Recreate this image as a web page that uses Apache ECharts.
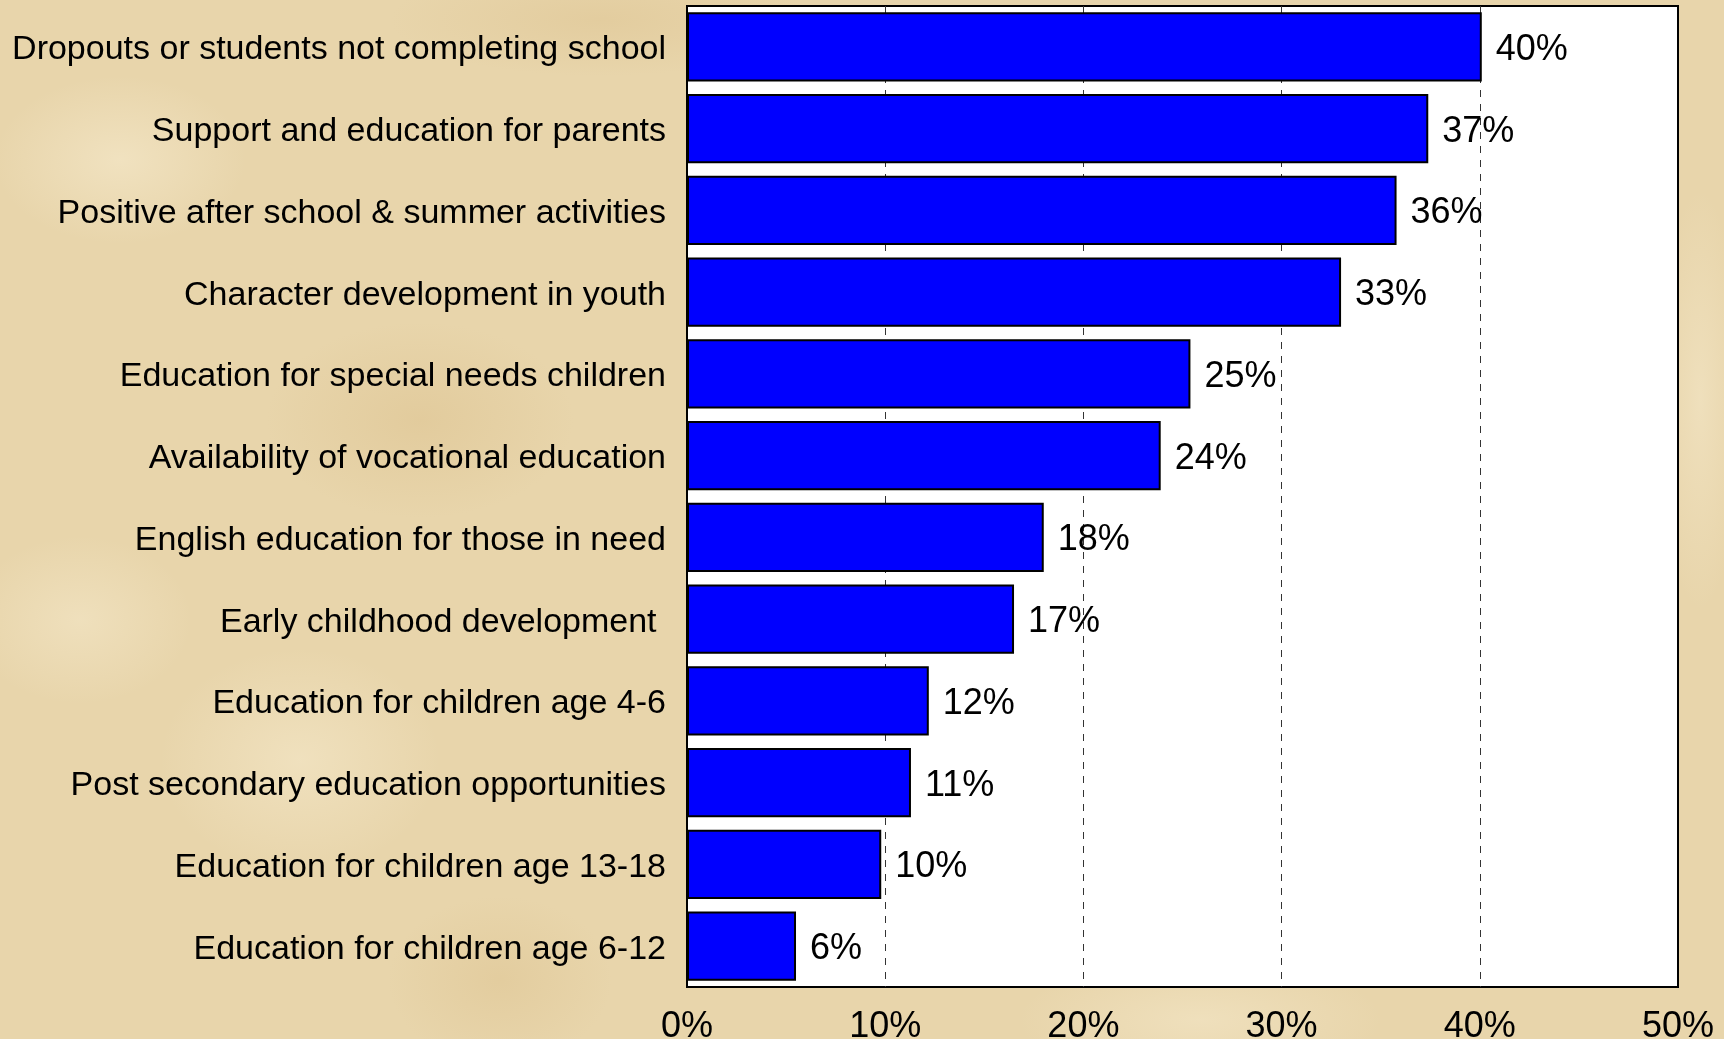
<!DOCTYPE html>
<html>
<head>
<meta charset="utf-8">
<script src="https://cdn.jsdelivr.net/npm/echarts@6/dist/echarts.min.js"></script>
<style>
html,body{margin:0;padding:0;width:1724px;height:1039px;overflow:hidden;}
body{
  background-color:#e8d5ab;
  background-image:
    radial-gradient(ellipse 180px 120px at 120px 160px, rgba(246,234,205,0.6), rgba(246,234,205,0) 70%),
    radial-gradient(ellipse 220px 140px at 420px 420px, rgba(215,185,130,0.35), rgba(215,185,130,0) 70%),
    radial-gradient(ellipse 200px 160px at 300px 760px, rgba(246,234,205,0.55), rgba(246,234,205,0) 70%),
    radial-gradient(ellipse 160px 120px at 80px 620px, rgba(246,234,205,0.5), rgba(246,234,205,0) 70%),
    radial-gradient(ellipse 160px 120px at 500px 980px, rgba(215,185,130,0.3), rgba(215,185,130,0) 70%),
    radial-gradient(ellipse 260px 90px at 1200px 1020px, rgba(246,234,205,0.5), rgba(246,234,205,0) 70%),
    radial-gradient(ellipse 60px 300px at 1700px 400px, rgba(246,234,205,0.5), rgba(246,234,205,0) 70%),
    radial-gradient(ellipse 300px 80px at 600px 20px, rgba(215,185,130,0.3), rgba(215,185,130,0) 70%);
}
#chart{width:1724px;height:1039px;}
</style>
</head>
<body>
<div id="chart"></div>
<script>
var categories = [
  "Dropouts or students not completing school",
  "Support and education for parents",
  "Positive after school & summer activities",
  "Character development in youth",
  "Education for special needs children",
  "Availability of vocational education",
  "English education for those in need",
  "Early childhood development ",
  "Education for children age 4-6",
  "Post secondary education opportunities",
  "Education for children age 13-18",
  "Education for children age 6-12"
];
var values = [40.1, 37.4, 35.8, 33.0, 25.4, 23.9, 18.0, 16.5, 12.2, 11.3, 9.8, 5.5];
var valueLabels = ["40", "37", "36", "33", "25", "24", "18", "17", "12", "11", "10", "6"];
var xTicks = [0, 10, 20, 30, 40, 50];

var chart = echarts.init(document.getElementById('chart'), null, {renderer: 'canvas'});
var fontFamily = '"Liberation Sans", Arial, Helvetica, sans-serif';
chart.setOption({
  backgroundColor: 'transparent',
  animation: false,
  grid: {
    left: 687, right: 46, top: 6, bottom: 52,
    show: true, backgroundColor: '#ffffff', borderColor: '#000000', borderWidth: 2,
    containLabel: false, outerBoundsMode: 'none'
  },
  xAxis: {
    type: 'value',
    min: xTicks[0], max: xTicks[xTicks.length - 1], interval: 10,
    axisLine: {show: false},
    axisTick: {show: false},
    axisLabel: {
      formatter: '{value}%', color: '#000', fontSize: 36, fontFamily: fontFamily,
      margin: 22, showMinLabel: true, showMaxLabel: true
    },
    splitLine: {
      show: true, showMinLine: false, showMaxLine: false,
      lineStyle: {color: '#333333', width: 1, type: [7, 7]}
    }
  },
  yAxis: {
    type: 'category',
    data: categories,
    inverse: true,
    axisLine: {show: false},
    axisTick: {show: false},
    axisLabel: {
      color: '#000', fontSize: 34, fontFamily: fontFamily, margin: 21,
      formatter: function (v) { return '{t|' + v + '}'; },
      rich: {t: {color: '#000', fontSize: 34, fontFamily: fontFamily, padding: [6, 0, 0, 0]}}
    }
  },
  series: [{
    type: 'bar',
    data: values,
    barCategoryGap: '15.5%',
    itemStyle: {color: '#0000ff', borderColor: '#000000', borderWidth: 2},
    label: {
      show: true, position: 'right', distance: 14, offset: [0, 3],
      color: '#000', fontSize: 36, fontFamily: fontFamily,
      formatter: function (p) { return valueLabels[p.dataIndex] + '%'; }
    }
  }]
});
</script>
</body>
</html>
